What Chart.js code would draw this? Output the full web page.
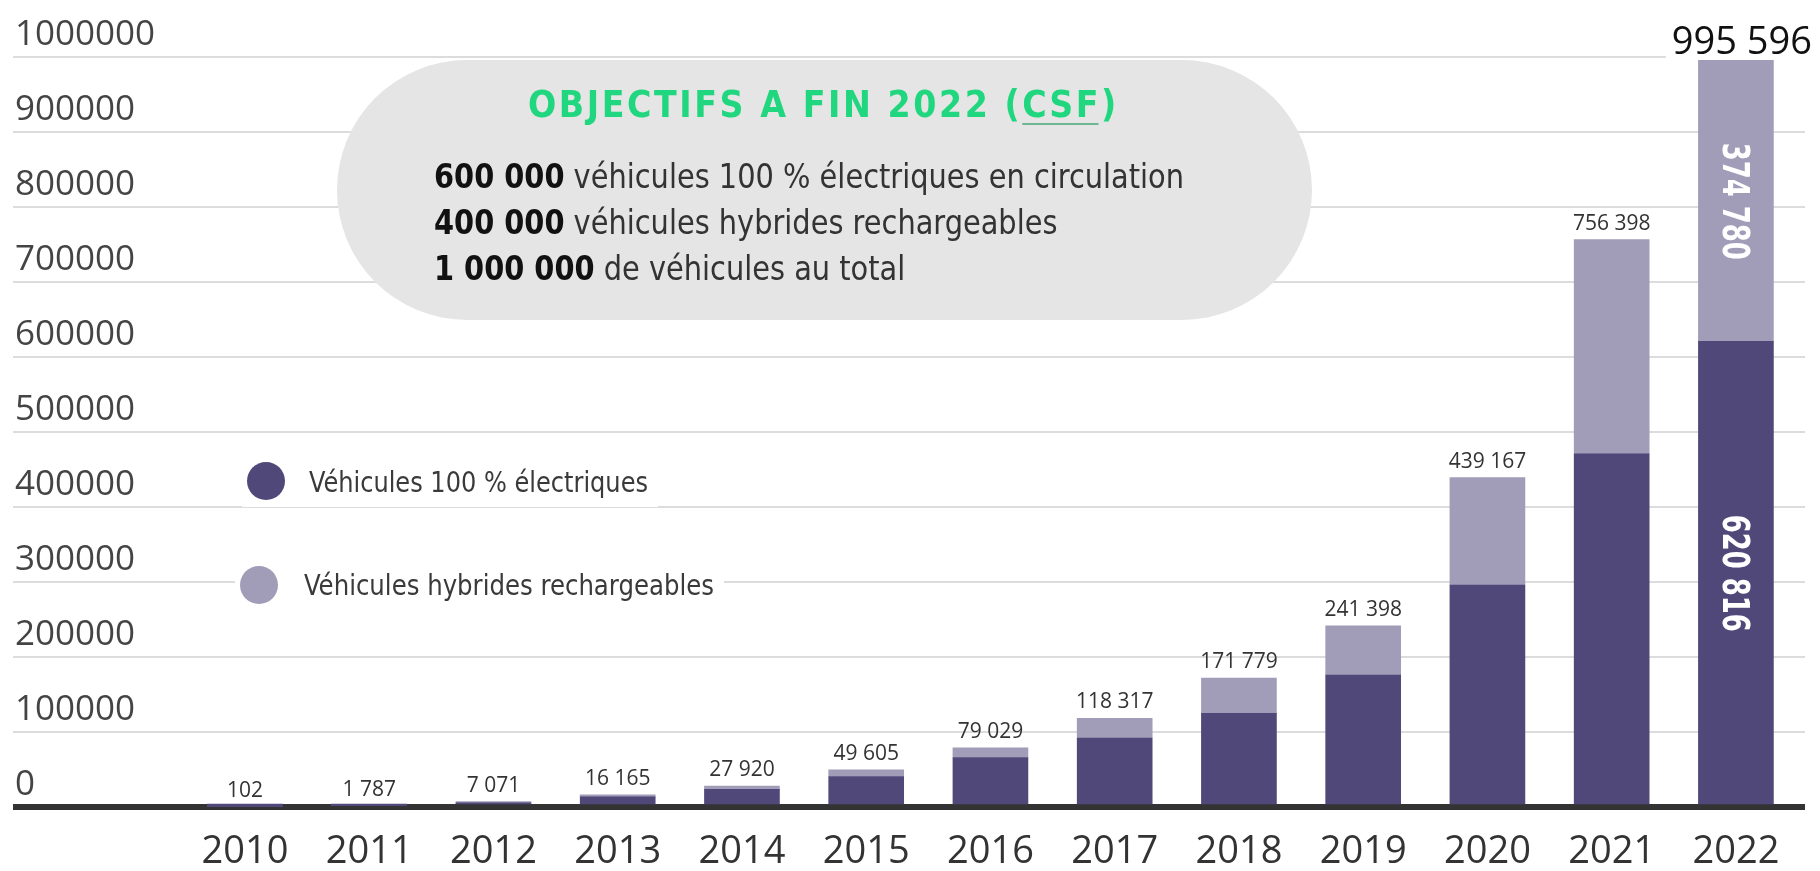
<!DOCTYPE html>
<html lang="fr">
<head>
<meta charset="utf-8">
<title>Parc de véhicules électriques et hybrides rechargeables</title>
<script src="https://cdn.jsdelivr.net/npm/chart.js@4.4.0/dist/chart.umd.min.js"></script>
<style>
  html, body { margin: 0; padding: 0; background: #fff; }
</style>
</head>
<body>
<canvas id="chartParc" width="1820" height="871"></canvas>
<script>
// données (parc cumulé en fin d'année)
const annees = [2010, 2011, 2012, 2013, 2014, 2015, 2016, 2017, 2018, 2019, 2020, 2021, 2022];
const totaux = [102, 1787, 7071, 16165, 27920, 49605, 79029, 118317, 171779, 241398, 439167, 756398, 995596];
const electriques = [102, 1700, 5500, 13500, 23500, 40700, 66000, 92000, 125000, 176000, 296000, 471000, 620816];
const hybrides = [0, 87, 1571, 2665, 4420, 8905, 13029, 26317, 46779, 65398, 143167, 285398, 374780];
const graduations = [0, 100000, 200000, 300000, 400000, 500000, 600000, 700000, 800000, 900000, 1000000];

const violetFonce = '#4f4879';
const violetClair = '#a19cb8';
const etroite = '"Liberation Sans Narrow", "DejaVu Sans Condensed", "Roboto Condensed", sans-serif';
const fine = '"Open Sans", "Noto Sans", sans-serif';

function fmt(n) {
  return String(n).replace(/\B(?=(\d{3})+(?!\d))/g, ' ');
}

function largeur(ctx, parts) {
  let w = 0;
  parts.forEach(p => { ctx.font = p.font; w += ctx.measureText(p.text).width; });
  return w;
}

// écrit une ligne en plusieurs morceaux, écrasée horizontalement de sx
function ecrire(ctx, parts, x, y, sx) {
  ctx.save();
  ctx.translate(x, y);
  ctx.scale(sx, 1);
  let cx = 0;
  parts.forEach(p => {
    ctx.font = p.font;
    ctx.fillStyle = p.color;
    ctx.fillText(p.text, cx, 0);
    cx += ctx.measureText(p.text).width;
  });
  ctx.restore();
}

const decor = {
  id: 'decor',
  beforeDatasetsDraw(chart) {
    const ctx = chart.ctx;
    ctx.save();
    ctx.textBaseline = 'alphabetic';
    ctx.textAlign = 'left';

    // encadré des objectifs
    ctx.fillStyle = '#e5e5e5';
    ctx.beginPath();
    ctx.roundRect(337, 60, 975, 260, 130);
    ctx.fill();

    const titre = 'OBJECTIFS A FIN 2022 (CSF)';
    ctx.font = 'bold 37px ' + etroite;
    ctx.fillStyle = '#20d67e';
    const w0 = ctx.measureText(titre).width;
    const esp = (589 - w0) / (titre.length - 1);
    const iCsf = titre.indexOf('CSF');
    let tx = 528, debut = 0, fin = 0;
    for (let i = 0; i < titre.length; i++) {
      if (i === iCsf) debut = tx;
      ctx.fillText(titre[i], tx, 117);
      tx += ctx.measureText(titre[i]).width;
      if (i === iCsf + 2) fin = tx;
      tx += esp;
    }
    ctx.fillStyle = '#6db892';
    ctx.fillRect(debut, 123, fin - debut, 2);

    const gras = 'bold 33px ' + etroite;
    const normal = '33px ' + etroite;
    const lignes = [
      [{ text: '600 000', font: gras, color: '#111' }, { text: ' véhicules 100 % électriques en circulation', font: normal, color: '#333' }],
      [{ text: '400 000', font: gras, color: '#111' }, { text: ' véhicules hybrides rechargeables', font: normal, color: '#333' }],
      [{ text: '1 000 000', font: gras, color: '#111' }, { text: ' de véhicules au total', font: normal, color: '#333' }]
    ];
    const sx = 750 / largeur(ctx, lignes[0]);
    [188, 234, 280].forEach((y, i) => ecrire(ctx, lignes[i], 434, y, sx));

    // légende dessinée à la main dans le graphique
    const ds = chart.data.datasets;
    const leg = [
      { cx: 266, cy: 481, tx: 309, ty: 492, w: 339 },
      { cx: 259, cy: 585, tx: 304, ty: 595, w: 410 }
    ];
    leg.forEach((l, i) => {
      ctx.fillStyle = '#fff';
      ctx.fillRect(l.cx - 24, l.cy - 26, l.tx - l.cx + l.w + 34, 52);
      ctx.fillStyle = ds[i].backgroundColor;
      ctx.beginPath();
      ctx.arc(l.cx, l.cy, 19, 0, Math.PI * 2);
      ctx.fill();
      const p = [{ text: ds[i].label, font: '28px ' + etroite, color: '#3a3a3a' }];
      ecrire(ctx, p, l.tx, l.ty, l.w / largeur(ctx, p));
    });
    ctx.restore();
  },
  afterDatasetsDraw(chart) {
    const ctx = chart.ctx;
    const haut = chart.getDatasetMeta(1).data;
    const bas = chart.getDatasetMeta(0).data;
    const dernier = annees.length - 1;
    ctx.save();
    ctx.textAlign = 'center';
    ctx.textBaseline = 'alphabetic';

    totaux.forEach((t, i) => {
      const el = haut[i];
      if (i === dernier) {
        ctx.font = '38px ' + fine;
        const w = ctx.measureText(fmt(t)).width;
        ctx.fillStyle = '#fff';
        ctx.fillRect(el.x + 6 - w / 2 - 6, el.y - 36, w + 12, 34);
        ctx.fillStyle = '#111';
        ctx.fillText(fmt(t), el.x + 6, el.y - 6);
      } else {
        ctx.font = '21px ' + fine;
        ctx.fillStyle = '#333';
        ctx.fillText(fmt(t), el.x, el.y - 10);
      }
    });

    // valeurs verticales dans la dernière barre
    const segments = [
      { el: haut[dernier], v: hybrides[dernier] },
      { el: bas[dernier], v: electriques[dernier] }
    ];
    segments.forEach(s => {
      const cy = (s.el.y + s.el.base) / 2;
      const p = [{ text: fmt(s.v), font: 'bold 37px ' + etroite, color: '#fff' }];
      const sx = 117 / largeur(ctx, p);
      ctx.save();
      ctx.translate(s.el.x - 13, cy);
      ctx.rotate(Math.PI / 2);
      ctx.textAlign = 'left';
      ecrire(ctx, p, -58, 0, sx);
      ctx.restore();
    });
    ctx.restore();
  }
};

const ctx = document.getElementById('chartParc').getContext('2d');

new Chart(ctx, {
  type: 'bar',
  data: {
    datasets: [{
      label: 'Véhicules 100 % électriques',
      data: annees.map((a, i) => ({ x: a, y: electriques[i] })),
      backgroundColor: violetFonce,
      barThickness: 75
    }, {
      label: 'Véhicules hybrides rechargeables',
      data: annees.map((a, i) => ({ x: a, y: hybrides[i] })),
      backgroundColor: violetClair,
      barThickness: 75
    }]
  },
  options: {
    responsive: false,
    animation: false,
    layout: {
      padding: { left: 9, right: 15, top: 57, bottom: 0 }
    },
    plugins: {
      legend: { display: false },
      tooltip: { enabled: false }
    },
    scales: {
      x: {
        type: 'linear',
        stacked: true,
        offset: false,
        min: 2008.133,
        max: 2022.556,
        afterBuildTicks: s => { s.ticks = annees.map(v => ({ value: v })); },
        afterFit: s => { s.height = 64; },
        grid: { display: false, offset: false },
        border: { display: false },
        ticks: {
          autoSkip: false,
          maxRotation: 0,
          padding: 18,
          color: '#333',
          font: { family: fine, size: 38, lineHeight: 1 },
          callback: v => String(v)
        }
      },
      y: {
        stacked: true,
        min: 0,
        max: 1000000,
        afterBuildTicks: s => { s.ticks = graduations.map(v => ({ value: v })); },
        border: { display: false },
        grid: {
          drawTicks: false,
          color: c => (c.tick && c.tick.value === 0 ? '#333' : '#dcdcdc'),
          lineWidth: c => (c.tick && c.tick.value === 0 ? 6 : 2)
        },
        ticks: {
          mirror: true,
          padding: 2,
          labelOffset: -22,
          color: '#444',
          font: { family: fine, size: 35 },
          callback: v => String(v)
        }
      }
    }
  },
  plugins: [decor]
});
</script>
</body>
</html>
